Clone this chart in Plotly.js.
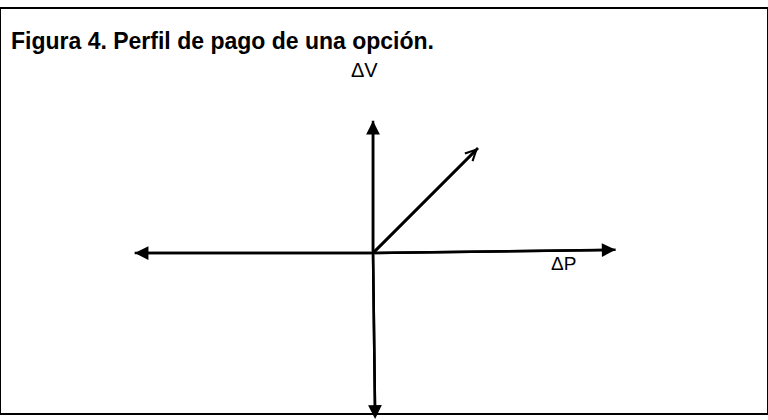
<!DOCTYPE html>
<html>
<head>
<meta charset="utf-8">
<script src="https://cdn.plot.ly/plotly-3.0.1.min.js"></script>
<style>html,body{margin:0;padding:0;background:#fff;}#chart{width:768px;height:420px;}</style>
</head>
<body>
<div id="chart"></div>
<script>
// Conceptual units: origin of the payoff diagram at (0,0)
const titleText = "Figura 4. Perfil de pago de una opción.";
const xAxisLabel = "ΔP";
const yAxisLabel = "ΔV";
// Axis arrow tips (ΔP axis left/right, ΔV axis up/down)
const hAxisX = [-2.27, 2.31];
const hAxisY = [0.0, 0.03];
const vAxisX = [0.0, 0.02];
const vAxisY = [1.26, -1.58];
// Payoff profile of the option: flat at 0 for ΔP<0, rising for ΔP>0
const payoffX = [0, 1.0];
const payoffY = [0, 1.0];
// Label positions
const labelPosX = [-0.08, 1.81];
const labelPosY = [1.74, -0.10];

const traces = [
  {x: [hAxisX[0], 0, hAxisX[1]], y: [hAxisY[0], 0, hAxisY[1]], mode: 'lines',
   line: {color: '#000', width: 2.5}, hoverinfo: 'skip', showlegend: false},
  {x: [vAxisX[0], vAxisX[0], vAxisX[1]], y: [vAxisY[0], 0, vAxisY[1]], mode: 'lines',
   line: {color: '#000', width: 2.5}, hoverinfo: 'skip', showlegend: false},
  {x: payoffX, y: payoffY, mode: 'lines',
   line: {color: '#000', width: 2.8}, hoverinfo: 'skip', showlegend: false}
];

function arrowTo(x, y, ax, ay, head, size) {
  return {x: x, y: y, ax: ax, ay: ay, xref: 'x', yref: 'y', axref: 'x', ayref: 'y',
    text: '', showarrow: true, arrowhead: head, arrowsize: size, arrowwidth: 2.5,
    arrowcolor: '#000', standoff: 0, startstandoff: 0};
}

const annotations = [
  arrowTo(hAxisX[0], hAxisY[0], 0, 0, 2, 1.1),
  arrowTo(hAxisX[1], hAxisY[1], 0, 0, 2, 1.1),
  arrowTo(vAxisX[0], vAxisY[0], 0, 0, 2, 1.1),
  arrowTo(vAxisX[1], vAxisY[1], 0, 0, 2, 1.1),
  arrowTo(payoffX[1], payoffY[1], payoffX[0], payoffY[0], 5, 0.85),
  {x: labelPosX[0], y: labelPosY[0], xref: 'x', yref: 'y', text: yAxisLabel, showarrow: false,
   font: {family: 'Liberation Sans, Arial, sans-serif', size: 20, color: '#000'}},
  {x: labelPosX[1], y: labelPosY[1], xref: 'x', yref: 'y', text: xAxisLabel, showarrow: false,
   font: {family: 'Liberation Sans, Arial, sans-serif', size: 19, color: '#000'}},
  {x: 0.011, y: 1 - (41 - 9) / 404, xref: 'paper', yref: 'paper', xanchor: 'left', yanchor: 'middle',
   text: '<b>' + titleText + '</b>', showarrow: false,
   font: {family: 'Liberation Sans, Arial, sans-serif', size: 23, color: '#000'}}
];

const layout = {
  width: 768, height: 420,
  margin: {l: 1, r: 1, t: 9, b: 7, pad: 0},
  paper_bgcolor: '#fff', plot_bgcolor: '#fff',
  xaxis: {range: [-3.543, 3.752], showgrid: false, zeroline: false, showticklabels: false,
          ticks: '', showline: true, mirror: true, linecolor: '#000', linewidth: 2, fixedrange: true},
  yaxis: {range: [-1.524, 2.324], showgrid: false, zeroline: false, showticklabels: false,
          ticks: '', showline: true, mirror: true, linecolor: '#000', linewidth: 2, fixedrange: true},
  annotations: annotations,
  showlegend: false
};

Plotly.newPlot('chart', traces, layout, {displayModeBar: false, staticPlot: true});
</script>
</body>
</html>
